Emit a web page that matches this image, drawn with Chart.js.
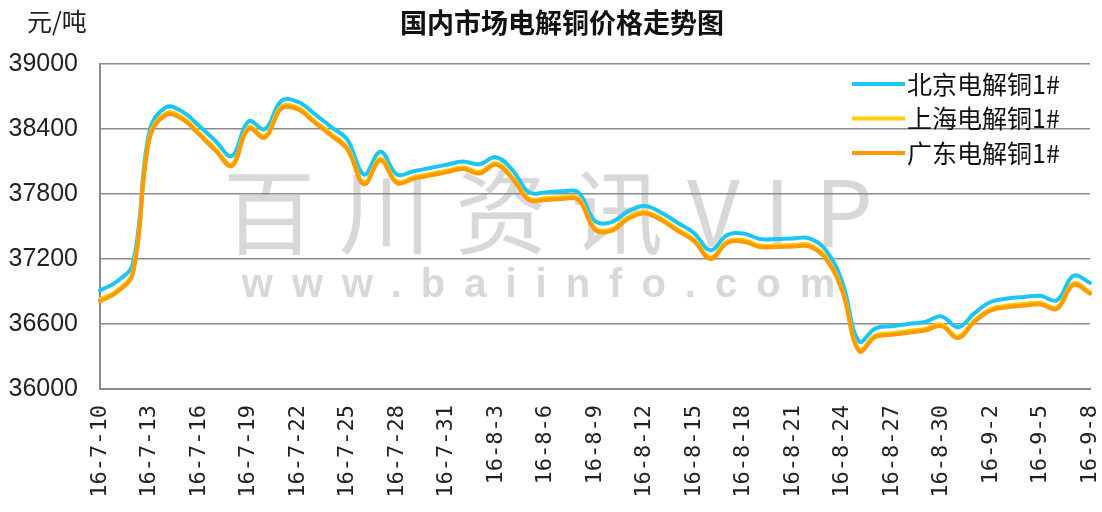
<!DOCTYPE html>
<html>
<head>
<meta charset="utf-8">
<script src="https://cdn.jsdelivr.net/npm/chart.js@4.4.1/dist/chart.umd.min.js"></script>
<style>
html,body{margin:0;padding:0;background:#fff;}
#wrap{width:1102px;height:512px;position:relative;}
canvas{display:block;}
</style>
</head>
<body>
<div id="wrap"><canvas id="c" width="1102" height="512"></canvas></div>
<script>
const chartTitle = '国内市场电解铜价格走势图';
const unitLabel = '元/吨';
const watermarkMain = '百川资讯VIP';
const watermarkUrl = 'www.baiinfo.com';

const dates = [
  '16-7-10','16-7-11','16-7-12','16-7-13','16-7-14','16-7-15','16-7-16','16-7-17','16-7-18','16-7-19',
  '16-7-20','16-7-21','16-7-22','16-7-23','16-7-24','16-7-25','16-7-26','16-7-27','16-7-28','16-7-29',
  '16-7-30','16-7-31','16-8-1','16-8-2','16-8-3','16-8-4','16-8-5','16-8-6','16-8-7','16-8-8',
  '16-8-9','16-8-10','16-8-11','16-8-12','16-8-13','16-8-14','16-8-15','16-8-16','16-8-17','16-8-18',
  '16-8-19','16-8-20','16-8-21','16-8-22','16-8-23','16-8-24','16-8-25','16-8-26','16-8-27','16-8-28',
  '16-8-29','16-8-30','16-8-31','16-9-1','16-9-2','16-9-3','16-9-4','16-9-5','16-9-6','16-9-7',
  '16-9-8'
];

const tickLabels = [
  '16-7-10','16-7-13','16-7-16','16-7-19','16-7-22','16-7-25','16-7-28','16-7-31',
  '16-8-3','16-8-6','16-8-9','16-8-12','16-8-15','16-8-18','16-8-21','16-8-24',
  '16-8-27','16-8-30','16-9-2','16-9-5','16-9-8'
];

const seriesNames = ['北京电解铜1#','上海电解铜1#','广东电解铜1#'];

const beijing = [
  36910,36990,37160,38380,38600,38560,38430,38290,38150,38470,
  38400,38660,38650,38540,38420,38300,37980,38190,37980,38010,
  38040,38070,38100,38075,38140,38020,37815,37815,37825,37815,
  37550,37540,37640,37690,37630,37535,37440,37280,37420,37435,
  37385,37385,37390,37390,37280,36980,36440,36560,36580,36600,
  36620,36670,36570,36700,36805,36835,36850,36860,36820,37045,
  36980
];

const shanghai = [
  36825,36905,37085,38325,38545,38505,38365,38215,38075,38415,
  38335,38605,38595,38475,38355,38225,37905,38125,37915,37955,
  37985,38015,38045,38005,38085,37955,37760,37760,37770,37760,
  37485,37475,37585,37635,37575,37475,37380,37215,37360,37375,
  37325,37325,37330,37330,37215,36910,36365,36495,36515,36535,
  36555,36595,36485,36635,36740,36770,36785,36795,36755,36975,
  36895
];

const guangdong = [
  36810,36890,37070,38310,38530,38490,38350,38200,38060,38400,
  38320,38590,38580,38460,38340,38210,37890,38110,37900,37940,
  37970,38000,38030,37990,38070,37940,37745,37745,37755,37745,
  37470,37460,37570,37620,37560,37460,37365,37200,37345,37360,
  37310,37310,37315,37315,37200,36895,36350,36480,36500,36520,
  36540,36580,36470,36620,36725,36755,36770,36780,36740,36960,
  36880
];

const yMin = 36000, yMax = 39000, yStep = 600;
const colors = ['#1CC6F4', '#FFCC00', '#FF9A00'];

const decoPlugin = {
  id: 'deco',
  beforeDraw(chart) {
    const ctx = chart.ctx;
    ctx.save();
    ctx.fillStyle = '#ffffff';
    ctx.fillRect(0, 0, chart.width, chart.height);
    ctx.fillStyle = '#d8d8d8';
    ctx.textAlign = 'center';
    ctx.textBaseline = 'middle';
    ctx.font = '92px "Noto Sans CJK SC"';
    ctx.letterSpacing = '24px';
    ctx.fillText(watermarkMain, 560, 212);
    ctx.font = 'bold 40px "Liberation Sans"';
    ctx.letterSpacing = '19px';
    ctx.fillText(watermarkUrl, 548, 286);
    ctx.restore();
  },
  afterDraw(chart) {
    const ctx = chart.ctx;
    ctx.save();
    ctx.letterSpacing = '0px';
    ctx.fillStyle = '#111';
    ctx.textBaseline = 'middle';
    ctx.textAlign = 'center';
    ctx.font = 'bold 27px "Noto Sans CJK SC"';
    ctx.fillText(chartTitle, 562, 23);
    ctx.textAlign = 'left';
    ctx.font = '25px "Noto Sans CJK SC"';
    ctx.fillStyle = '#222';
    ctx.fillText(unitLabel, 27, 21);
    ctx.font = '25px "Noto Sans CJK SC"';
    ctx.fillStyle = '#111';
    chart.data.datasets.forEach((ds, i) => {
      const y = 84 + 34.5 * i;
      ctx.strokeStyle = ds.borderColor;
      ctx.lineWidth = 4;
      ctx.beginPath();
      ctx.moveTo(852, y);
      ctx.lineTo(905, y);
      ctx.stroke();
      ctx.fillText(ds.label, 907, y);
    });
    ctx.restore();
  }
};

new Chart(document.getElementById('c'), {
  type: 'line',
  data: {
    labels: dates,
    datasets: [
      { label: seriesNames[0], data: beijing, borderColor: colors[0], backgroundColor: colors[0], order: 2 },
      { label: seriesNames[1], data: shanghai, borderColor: colors[1], backgroundColor: colors[1], order: 1 },
      { label: seriesNames[2], data: guangdong, borderColor: colors[2], backgroundColor: colors[2], order: 0 }
    ]
  },
  options: {
    responsive: false,
    animation: false,
    devicePixelRatio: 1,
    layout: { padding: { top: 64, right: 12, left: 0, bottom: 0 } },
    plugins: { legend: { display: false }, tooltip: { enabled: false }, title: { display: false } },
    elements: {
      point: { radius: 0 },
      line: { tension: 0.4, borderWidth: 4, borderCapStyle: 'round', borderJoinStyle: 'round', fill: false }
    },
    scales: {
      x: {
        type: 'category',
        offset: false,
        grid: { display: false, drawTicks: false },
        border: { display: true, color: '#8c8c8c', width: 2 },
        ticks: {
          autoSkip: false,
          minRotation: 90,
          maxRotation: 90,
          padding: 16,
          color: '#222',
          font: { family: 'DejaVu Sans Mono', size: 22 },
          callback: function(value, index) {
            const lab = dates[index];
            return tickLabels.includes(lab) ? lab : '';
          }
        },
        afterFit: s => { s.height = 123; s.paddingLeft = 0; s.paddingRight = 0; }
      },
      y: {
        min: yMin,
        max: yMax,
        ticks: {
          stepSize: yStep, padding: 22, color: '#222',
          font: { family: 'Liberation Sans', size: 25 },
          callback: v => String(v)
        },
        grid: { color: '#8c8c8c', lineWidth: 1.5, drawTicks: false },
        border: { display: true, color: '#8c8c8c', width: 2 },
        afterFit: s => { s.width = 100; s.paddingTop = 0; s.paddingBottom = 0; }
      }
    }
  },
  plugins: [decoPlugin]
});
</script>
</body>
</html>
